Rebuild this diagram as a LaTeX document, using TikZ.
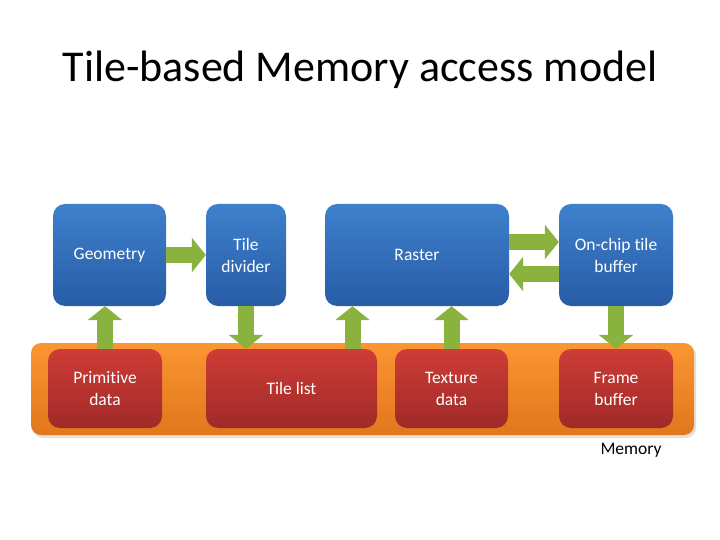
\documentclass[tikz,border=0pt]{standalone}
\usepackage{fontspec}
\setmainfont{Carlito}[Ligatures={NoCommon}]
\usetikzlibrary{arrows.meta}
\definecolor{bluetop}{RGB}{62,128,204}
\definecolor{bluebot}{RGB}{40,92,166}
\definecolor{redtop}{RGB}{206,60,54}
\definecolor{redbot}{RGB}{160,42,40}
\definecolor{orgtop}{RGB}{250,150,50}
\definecolor{orgbot}{RGB}{226,118,28}
\definecolor{arrgreen}{RGB}{138,178,62}
\tikzset{
  bluebox/.style={rounded corners=12pt, top color=bluetop, bottom color=bluebot, draw=none,
    text=white, align=center, font=\fontsize{17.5}{22}\selectfont, inner sep=0pt},
  redbox/.style={rounded corners=12pt, top color=redtop, bottom color=redbot, draw=none,
    text=white, align=center, font=\fontsize{17.5}{22}\selectfont, inner sep=0pt},
  garrow/.style={draw=arrgreen, line width=16pt, -{Triangle[width=34pt,length=14pt]}, arrgreen}
}
\begin{document}
\begin{tikzpicture}[x=1pt,y=-1pt]
\useasboundingbox (0,0) rectangle (720,540);
\node[anchor=base, font=\fontsize{44}{52}\selectfont] (title) at (360,82) {Tile-based Memory access model};

% memory bar
\fill[black!12, rounded corners=10pt] (33,345) rectangle (696,438);
\node[rounded corners=10pt, top color=orgtop, bottom color=orgbot, minimum width=663pt, minimum height=92pt, inner sep=0pt] (mem) at (362.5,389) {};
\node[font=\fontsize{17.5}{22}\selectfont] (memlabel) at (631,450) {Memory};

% blue boxes
\node[bluebox, minimum width=113pt, minimum height=102pt] (geo) at (109.5,255) {Geometry};
\node[bluebox, minimum width=80pt, minimum height=102pt] (tdiv) at (246,255) {Tile\\divider};
\node[bluebox, minimum width=184pt, minimum height=102pt] (raster) at (417,255) {Raster};
\node[bluebox, minimum width=114pt, minimum height=102pt] (onchip) at (616,255) {On-chip tile\\buffer};

% red boxes
\node[redbox, minimum width=114pt, minimum height=79pt] (prim) at (105,388.5) {Primitive\\data};
\node[redbox, minimum width=171pt, minimum height=79pt] (tlist) at (291.5,388.5) {Tile list};
\node[redbox, minimum width=113pt, minimum height=79pt] (tex) at (451.5,388.5) {Texture\\data};
\node[redbox, minimum width=114pt, minimum height=79pt] (fb) at (616,388.5) {Frame\\buffer};

% arrows
\draw[garrow] (geo.east) -- (tdiv.west);
\draw[garrow] (prim.north) -- (prim.north |- geo.south);
\draw[garrow] (tdiv.south) -- (tdiv.south |- tlist.north);
\draw[garrow] ([xshift=61pt]tlist.north) -- ([xshift=61pt]tlist.north |- raster.south);
\draw[garrow] (tex.north) -- (tex.north |- raster.south);
\draw[garrow] ([yshift=13pt]raster.east) -- ([yshift=13pt]onchip.west);
\draw[garrow] ([yshift=-19pt]onchip.west) -- ([yshift=-19pt]raster.east);
\draw[garrow] (onchip.south) -- (fb.north);
\end{tikzpicture}
\end{document}
